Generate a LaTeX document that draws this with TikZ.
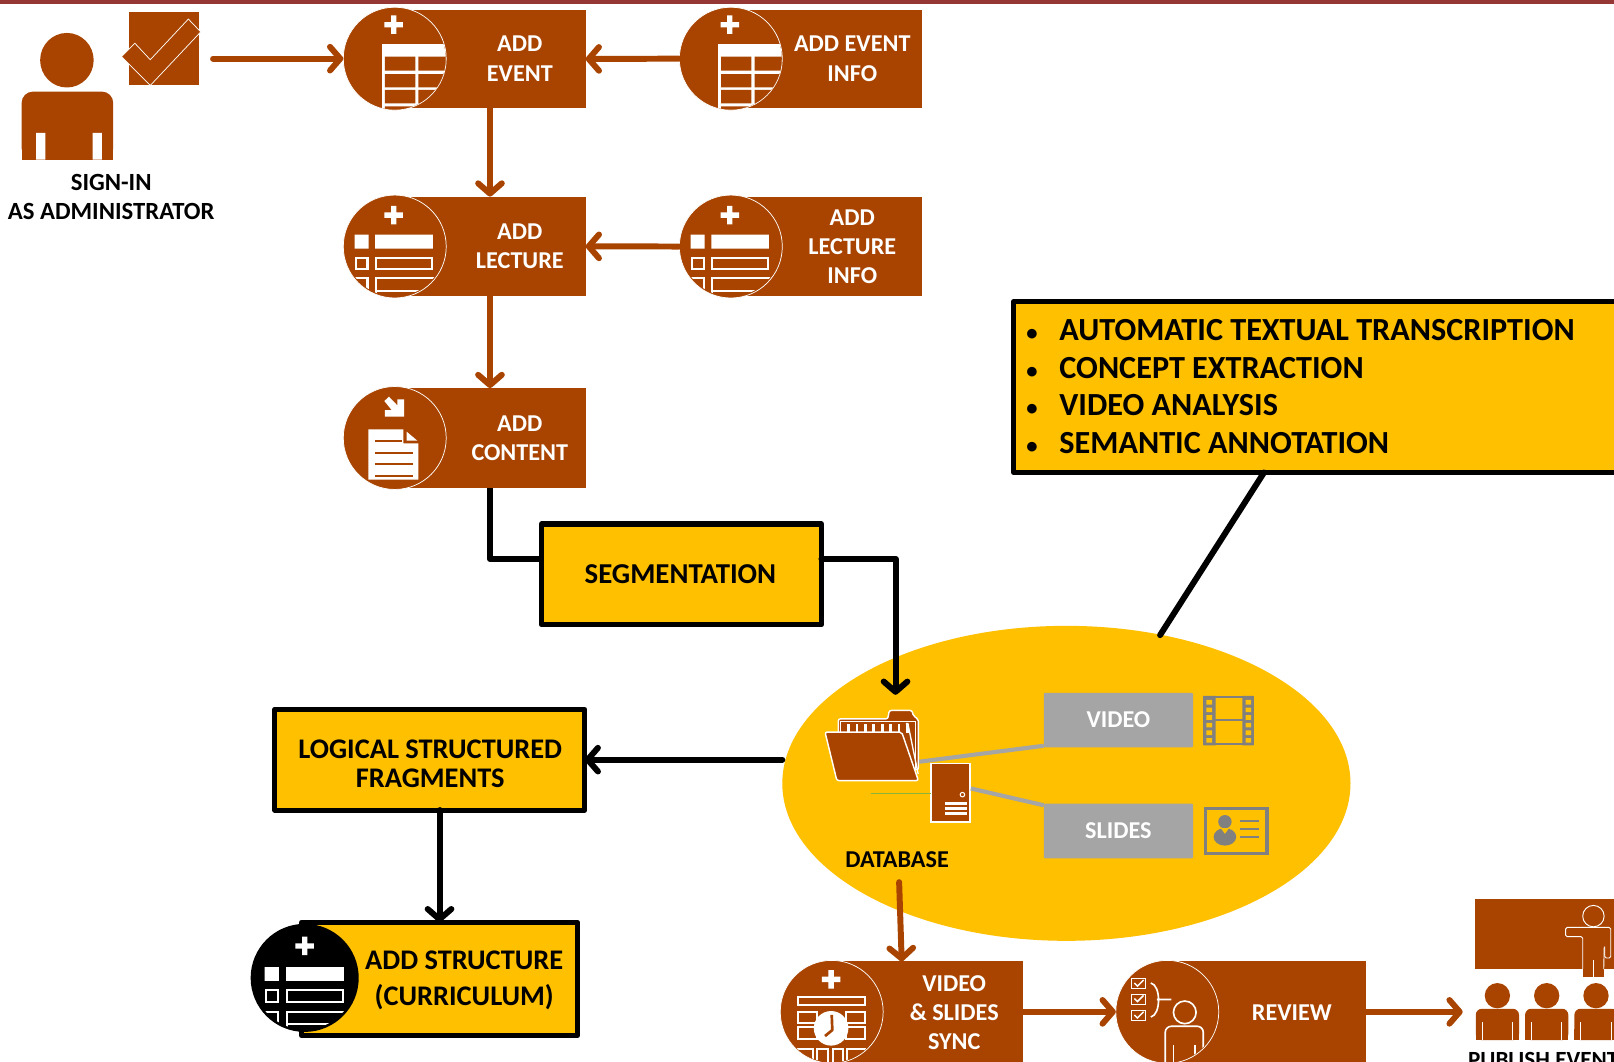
\documentclass[tikz,border=0pt]{standalone}
\usepackage{fontspec}
\setmainfont{Carlito}
\usetikzlibrary{arrows.meta,shapes.geometric,calc}
\definecolor{brn}{HTML}{A94400}
\definecolor{yel}{HTML}{FFC000}
\definecolor{band}{HTML}{953735}
\definecolor{gbox}{HTML}{A5A5A5}
\definecolor{gico}{HTML}{808080}
\definecolor{grn}{HTML}{8DB33A}
\tikzset{
  brect/.style={rectangle,fill=brn,inner sep=0pt,outer sep=0pt},
  brcirc/.style={circle,fill=brn,draw=white,line width=0.7pt,minimum size=100pt,inner sep=0pt,outer sep=0pt},
  ytxt/.style={font=\fontsize{23.5}{28.3}\selectfont\bfseries,align=center,inner sep=0pt,text=white},
  btxt/.style={ytxt,text=black},
  ybox/.style={rectangle,fill=yel,draw=black,line width=5pt,inner sep=0pt,outer sep=0pt,line join=round},
  gbx/.style={rectangle,fill=gbox,rounded corners=1pt,inner sep=0pt,outer sep=0pt,minimum width=145pt,minimum height=53pt},
  brarrow/.style={draw=brn,line width=5.8pt,line cap=round,-{Straight Barb[length=10pt,width=23pt,round]}},
  blarrow/.style={draw=black,line width=5.8pt,line cap=round,-{Straight Barb[length=10pt,width=23pt,round]}},
  blline/.style={draw=black,line width=5.8pt,line cap=round},
  gline/.style={draw=gbox,line width=4pt}
}
% plus sign
\newcommand{\plusmark}[3]{\fill[#3] (#1-9,#2-2.6) rectangle (#1+9,#2+2.6) (#1-2.6,#2-9) rectangle (#1+2.6,#2+9);}
% table icon on circle at (#1,#2)
\newcommand{\tableicon}[2]{%
 \begin{scope}[shift={(#1,#2)}]
  \plusmark{-1}{-33}{white}
  \begin{scope}
   \clip (0,0) circle (49.5);
   \fill[white] (-12,-14) rectangle (50,50);
   \fill[brn] (-9.5,-2) rectangle (20,11.6) (23,-2) rectangle (50,11.6)
              (-9.5,15) rectangle (20,28) (23,15) rectangle (50,28)
              (-9.5,30.4) rectangle (20,43.4) (23,30.4) rectangle (50,43.4)
              (-9.5,46.3) rectangle (20,52) (23,46.3) rectangle (50,52);
  \end{scope}
 \end{scope}}
% list icon
\newcommand{\listicon}[2]{%
 \begin{scope}[shift={(#1,#2)}]
  \plusmark{-1}{-30.5}{white}
  \begin{scope}
   \clip (0,0) circle (48.5);
   \fill[white] (-39,-11.5) rectangle (-25.5,2) (-19,-11.5) rectangle (37,2);
   \draw[white,line width=2pt] (-38,11) rectangle (-26.5,22) (-18,11) rectangle (36,22)
        (-50,31) -- (-26.5,31) -- (-26.5,50) (-18,50) -- (-18,31) -- (50,31) (-18,43.5) -- (50,43.5);
  \end{scope}
 \end{scope}}
% audience member
\newcommand{\audience}[1]{%
  \fill[brn] (#1,967.3) circle (12.3);
  \fill[brn,rounded corners=6pt] (#1-21,1010.5) -- (#1-21,980) -- (#1+21,980) -- (#1+21,1010.5) -- cycle;
  \fill[brn] (#1-21,1000) rectangle (#1+21,1010.5);
  \draw[white,line width=1pt] (#1-14.6,1010.5) -- (#1-14.6,992.6) (#1+14.6,1010.5) -- (#1+14.6,992.6);}
\begin{document}
\begin{tikzpicture}[x=1pt,y=-1pt]
\useasboundingbox (0,0) rectangle (1568,1031);
\clip (0,0) rectangle (1568,1031);
\fill[white] (0,0) rectangle (1568,1031);
\fill[band] (0,0) rectangle (1568,3.4);

% sign-in figure
\fill[brn] (65,58.5) ellipse (26 and 26.5);
\fill[brn,rounded corners=11pt] (21,155) -- (21,89) -- (110,89) -- (110,155) -- cycle;
\fill[brn] (21,130) rectangle (110,155);
\fill[white] (35,129) rectangle (44,155) (90,129) rectangle (99,155);
\node[brect,minimum width=68pt,minimum height=71pt] (checkbox) at (159,47.5) {};
\draw[fill=brn,draw=white,line width=0.7pt,line join=miter]
   (118,55) -- (131,42) -- (146,58) -- (183,18.5) -- (195,31) -- (146,83) -- cycle;
\node[btxt,font=\fontsize{24}{28.3}\selectfont\bfseries] (signin) at (108,191) {SIGN-IN\\AS ADMINISTRATOR};

% upper process rectangles
\node[brect,minimum width=174pt,minimum height=95.5pt] (event) at (482,57.25) {};
\node[brcirc] (eventc) at (383.5,57) {};
\tableicon{383.5}{57}
\node[ytxt] (eventt) at (505,57) {ADD\\EVENT};

\node[brect,minimum width=176pt,minimum height=95.5pt] (einfo) at (808,57.25) {};
\node[brcirc] (einfoc) at (710,57) {};
\tableicon{710}{57}
\node[ytxt] (einfot) at (828,57) {ADD EVENT\\INFO};

\node[brect,minimum width=174pt,minimum height=96.6pt] (lect) at (482,239.3) {};
\node[brcirc] (lectc) at (383.5,239.5) {};
\listicon{383.5}{239.5}
\node[ytxt] (lectt) at (505,239.5) {ADD\\LECTURE};

\node[brect,minimum width=176pt,minimum height=96.6pt] (linfo) at (808,239.3) {};
\node[brcirc] (linfoc) at (710,239.5) {};
\listicon{710}{239.5}
\node[ytxt] (linfot) at (828,239.5) {ADD\\LECTURE\\INFO};

\node[brect,minimum width=174pt,minimum height=97pt] (cont) at (482,425.5) {};
\node[brcirc] (contc) at (383.5,425.5) {};
\fill[white] (373.4,389.6) -- (377.9,385.4) -- (386,393.8) -- (386,388) -- (392.5,388) -- (392.5,404.8) -- (374,404.8) -- (374,398.4) -- (380.5,398.4) -- cycle;
\fill[white] (357.8,417.1) -- (391.9,417.1) -- (391.9,430.7) -- (406.4,430.7) -- (406.4,466) -- (357.8,466) -- cycle;
\fill[white] (395.1,419.4) -- (405.4,428.1) -- (395.1,428.1) -- cycle;
\draw[brn,line width=2pt] (364.3,428.4) -- (391,428.4) (364.3,439.8) -- (400.9,439.8) (364.3,451.1) -- (400.9,451.1) (364.3,462.4) -- (400.9,462.4);
\node[ytxt] (contt) at (505,425.5) {ADD\\CONTENT};

% yellow annotation box
\node[ybox,minimum width=640pt,minimum height=166pt] (annot) at (1305,376) {};
\node[btxt,font=\fontsize{31.3}{36.7}\selectfont\bfseries,align=left,anchor=west] (annott) at (997,375.5)
 {\makebox[32pt][l]{\fontsize{22}{22}\selectfont •}AUTOMATIC TEXTUAL TRANSCRIPTION\\
  \makebox[32pt][l]{\fontsize{22}{22}\selectfont •}CONCEPT EXTRACTION\\
  \makebox[32pt][l]{\fontsize{22}{22}\selectfont •}VIDEO ANALYSIS\\
  \makebox[32pt][l]{\fontsize{22}{22}\selectfont •}SEMANTIC ANNOTATION};

% database ellipse
\node[ellipse,fill=yel,minimum width=552pt,minimum height=306pt,inner sep=0pt,outer sep=0pt] (db) at (1036,761) {};
\coordinate (dbtop) at (1127,617);
\coordinate (dbin) at (870,675);
\coordinate (dbout) at (873.5,857);

% folder
\node[rectangle,inner sep=0pt,minimum width=1pt,minimum height=1pt] (folder) at (893,740) {};
\draw[white,fill=brn,line width=1.4pt,rounded corners=2pt] (814.4,725) -- (814.4,698.4) -- (862.5,698.4) -- (863.9,690.2) -- (886,690.2) -- (887.5,696) -- (892.2,698.4) -- (892.2,748) -- cycle;
\draw[white,line width=1pt] (817,711) -- (817,700.5) -- (889.5,700.5) -- (889.5,748);
\foreach \k in {0,...,7} {\fill[white] (823+\k*8.2,703) rectangle (825.6+\k*8.2,712);}
\draw[white,line width=1.3pt] (880,703) -- (882,703) -- (892,752);
\draw[white,fill=brn,line width=1.4pt,rounded corners=2pt] (801.5,711.2) -- (876,711.2) -- (892.2,758.3) -- (813,758.3) -- cycle;

% green line and server
\coordinate (greenl) at (846.5,771);
\node[rectangle,draw=white,fill=brn,line width=1.4pt,minimum width=38pt,minimum height=57pt,inner sep=0pt,outer sep=0pt] (server) at (923.5,770) {};
\draw[grn,line width=1.4pt] (greenl) -- (server.west |- greenl);
\draw[white,line width=1pt] (935,772) circle (2.2);
\draw[white,line width=2.6pt] (918,780.5) -- (939,780.5) (918,785.3) -- (939,785.3) (918,790) -- (939,790);

% grey boxes
\node[gbx] (video) at (1086.5,699.5) {};
\node[gbx] (slides) at (1086.5,807.3) {};
\node[ytxt] (videot) at (1086.5,699.5) {VIDEO};
\node[ytxt] (slidest) at (1086.5,807.3) {SLIDES};
\draw[gline] (folder.center) -- ([yshift=1.5pt]video.south west);
\draw[gline] ([yshift=4pt,xshift=.7pt]server.east) -- ([yshift=-1.5pt]slides.north west);

% film icon
\draw[gico,line width=2pt] (1170,677) rectangle (1217,723) (1180,699.5) -- (1208,699.5);
\fill[gico] (1169,676) rectangle (1181,724) (1207,676) rectangle (1218,724);
\foreach \k in {0,...,5} {\fill[yel] (1172,680+\k*7.4) rectangle (1177.5,684.5+\k*7.4) (1210,680+\k*7.4) rectangle (1215.5,684.5+\k*7.4);}

% card icon
\draw[gico,line width=3.4pt] (1171,785.5) rectangle (1231,829);
\fill[gico] (1190,798.3) circle (6.5);
\fill[gico] (1190,813) ellipse (11 and 8.5);
\fill[yel] (1186,804.5) -- (1194,804.5) -- (1190,810) -- cycle;
\draw[gico,line width=1.4pt] (1205,797.7) -- (1223,797.7) (1205,805.4) -- (1223,805.4) (1205,813) -- (1223,813);

\node[btxt,font=\fontsize{23.5}{27}\selectfont\bfseries] (dbt) at (871.5,835) {DATABASE};

% segmentation
\node[ybox,minimum width=272pt,minimum height=98pt] (seg) at (662,558) {};
\node[btxt,font=\fontsize{28}{28.3}\selectfont\bfseries] (segt) at (661,558) {SEGMENTATION};

% logical fragments
\node[ybox,minimum width=301pt,minimum height=98pt] (logic) at (417.5,738) {};
\node[btxt,font=\fontsize{27.6}{28.3}\selectfont\bfseries] (logict) at (418,742) {LOGICAL STRUCTURED\\FRAGMENTS};

% add structure
\node[ybox,minimum width=268pt,minimum height=110pt] (struct) at (427,951) {};
\node[circle,fill=black,minimum size=105pt,inner sep=0pt,outer sep=0pt] (structc) at (296,950) {};
\begin{scope}[shift={(296,950)}]
  \plusmark{0}{-31}{white}
  \begin{scope}
   \clip (0,0) circle (50);
   \fill[white] (-39,-10.5) rectangle (-25,3) (-18,-10.5) rectangle (38,3);
   \draw[white,line width=2pt] (-38,11.5) rectangle (-26,23) (-17,11.5) rectangle (37,23)
        (-50,33) -- (-26,33) -- (-26,50) (-17,50) -- (-17,33) -- (50,33) (-17,45) -- (50,45);
  \end{scope}
\end{scope}
\node[btxt,font=\fontsize{27.6}{35}\selectfont\bfseries] (structt) at (451,952) {ADD STRUCTURE\\(CURRICULUM)};

% sync
\node[brect,minimum width=176pt,minimum height=106pt] (sync) at (906,987) {};
\node[brcirc] (syncc) at (808,983) {};
\begin{scope}
 \clip (808,983) circle (49);
 \plusmark{807.4}{951.4}{white}
 \draw[white,line width=1.8pt] (775,968.3) rectangle (840.4,976.4);
 \draw[white,line width=1.8pt] (775,983) rectangle (794,994) (775,998) rectangle (794,1009)
   (822,983) rectangle (840.4,994) (822,998) rectangle (840.4,1009)
   (775,1019.5) rectangle (790,1040) (794,1019.5) rectangle (804,1040) (809,1019.5) rectangle (819,1040) (823,1019.5) rectangle (840.4,1040);
 \fill[white] (807.4,999) circle (16.8);
 \draw[brn,line width=2.6pt,line join=round] (808,986) -- (808.6,1000.7) -- (801.5,1006.5);
\end{scope}
\node[ytxt] (synct) at (927,983.5) {VIDEO\\\& SLIDES\\SYNC};

% review
\node[brect,minimum width=182.5pt,minimum height=106pt] (rev) at (1236.25,987) {};
\node[brcirc] (revc) at (1134,983) {};
\begin{scope}
 \clip (1134,983) circle (49);
 \draw[white,line width=1.1pt] (1099,951) rectangle (1113,960.5) (1099,966.5) rectangle (1113,975.5) (1099,982) rectangle (1113,991.5);
 \draw[white,line width=1.4pt] (1102,955) -- (1105,958) -- (1111,952) (1102,970) -- (1105,973) -- (1111,967) (1102,986) -- (1105,989) -- (1111,983);
 \draw[white,line width=1.6pt] (1118,955) .. controls (1128,957) and (1128,986) .. (1118,988) (1124,971) -- (1138,971);
 \draw[white,line width=1.6pt] (1151,983.5) circle (11);
 \draw[white,line width=1.6pt,rounded corners=6pt] (1132,1040) -- (1132,997) -- (1169,997) -- (1169,1040);
 \draw[white,line width=1.4pt] (1140,1015) -- (1140,1040) (1161,1015) -- (1161,1040);
\end{scope}
\node[ytxt] (revt) at (1255,983.5) {REVIEW};

% publish
\node[brect,minimum width=140pt,minimum height=68.5pt] (board) at (1503,907.2) {};
\draw[white,fill=brn,line width=0.9pt] (1548,890) circle (10.4);
\fill[brn] (1537.6,941) rectangle (1558,949);
\draw[white,line width=0.9pt,line join=round,rounded corners=1.5pt] (1537.6,941.4) -- (1537.6,910) -- (1521,910) -- (1521,901) -- (1564.8,901) -- (1564.8,930.7) -- (1559,930.7) -- (1559,919.7);
\draw[white,line width=0.9pt] (1558.5,919.7) -- (1558,941.4);
\draw[white,line width=1pt] (1548,933) -- (1548,949);
\audience{1454.7}
\audience{1502.6}
\audience{1550.5}
\coordinate (pub) at (1421,983);
\node[btxt,anchor=west,font=\fontsize{22.5}{27}\selectfont\bfseries] (pubt) at (1426,1030) {PUBLISH EVENT};

% connectors
\coordinate (signout) at (207,57);
\draw[brarrow] (signout) -- (eventc.west);
\draw[brarrow] (einfoc.west) -- (event.east);
\draw[brarrow] (linfoc.west) -- (lect.east);
\draw[brarrow] ([xshift=-6pt]event.south) -- ([xshift=-6pt]lect.north);
\draw[brarrow] ([xshift=-6pt]lect.south) -- ([xshift=-6pt]cont.north);
\draw[blline,line cap=butt,line join=round] ([xshift=-6pt]cont.south) |- ([yshift=15pt]seg.west);
\draw[blarrow,line join=round] ([yshift=15pt]seg.east) -| (dbin);
\draw[blline] ([xshift=-77pt]annot.south) -- (dbtop);
\draw[blarrow] (logic.east -| db.west) -- (logic.east);
\draw[blarrow] ([xshift=9.5pt]logic.south) -- (struct.north);
\draw[brarrow] (dbout) -- ([xshift=-30pt]sync.north);
\draw[brarrow] (sync.east |- syncc) -- (revc.west);
\draw[brarrow] (rev.east |- revc) -- (pub);
\end{tikzpicture}
\end{document}
